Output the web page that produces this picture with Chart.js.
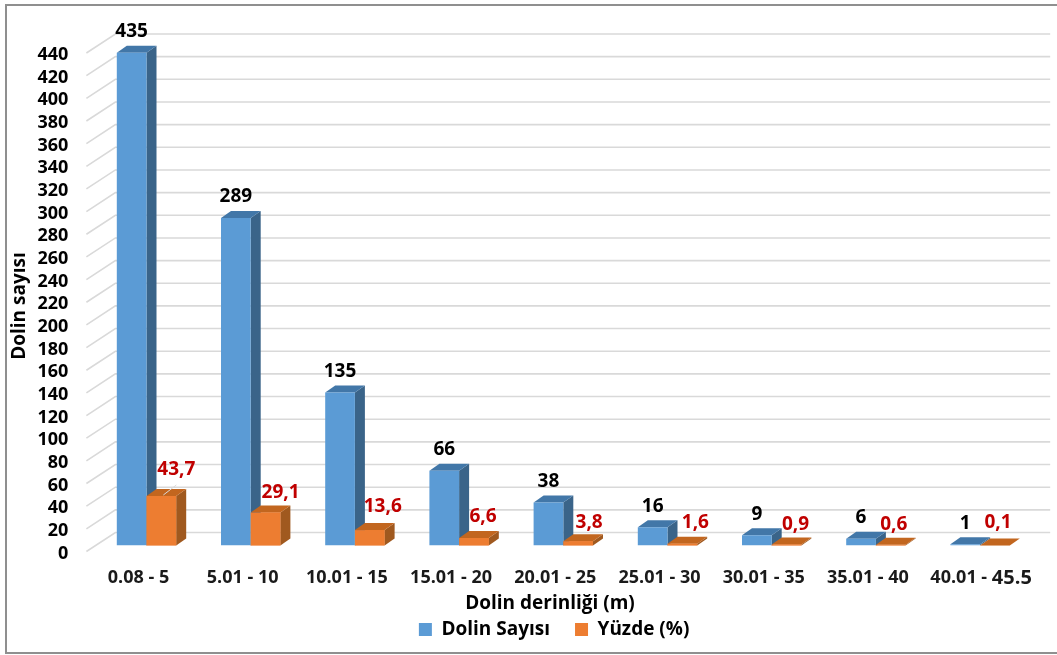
<!DOCTYPE html>
<html lang="tr">
<head>
<meta charset="utf-8">
<title>Dolin derinliği</title>
<style>
  html, body { margin: 0; background: #fff; }
  #wrap { position: relative; width: 1057px; height: 655px; overflow: hidden; }
  #grafik { filter: blur(0.4px); }
  #frame { position: absolute; left: 5px; top: 4px; width: 1060px; height: 646px; border: 2px solid #8f8f8f; pointer-events: none; }
</style>
</head>
<body>
<div id="wrap">
  <canvas id="grafik" width="1057" height="655"></canvas>
  <div id="frame"></div>
</div>
<script src="https://cdn.jsdelivr.net/npm/chart.js@4"></script>
<script>
const kategoriler = ['0.08 - 5', '5.01 - 10', '10.01 - 15', '15.01 - 20', '20.01 - 25', '25.01 - 30', '30.01 - 35', '35.01 - 40', '40.01 - 45.5'];
const dolinSayisi = [435, 289, 135, 66, 38, 16, 9, 6, 1];
const yuzde = [43.7, 29.1, 13.6, 6.6, 3.8, 1.6, 0.9, 0.6, 0.1];

const fontAd = '"Open Sans", sans-serif';
const DERINLIK_X = 10, DERINLIK_Y = 7;
const renkler = [
  { on: '#5b9bd5', ust: '#4277a8', yan: '#3a6489' },
  { on: '#ed7d31', ust: '#c2661f', yan: '#a0591f' }
];
// red labels do not sit centred on their bars
const yuzdeEtiketDx = [15, 15, 13, 9, 11, 13, 9, 3, 3];
const yuzdeEtiketDy = [26, 20, 23, 21, 19, 21, 20, 20, 23];

function cokgen(c, noktalar, renk) {
  c.fillStyle = renk;
  c.beginPath();
  noktalar.forEach((n, i) => i ? c.lineTo(n[0], n[1]) : c.moveTo(n[0], n[1]));
  c.closePath();
  c.fill();
}

function yuzeyler(c, meta, r) {
  meta.data.forEach(b => {
    const sol = b.x - b.width / 2, sag = b.x + b.width / 2;
    cokgen(c, [[sag, b.y], [sag + DERINLIK_X, b.y - DERINLIK_Y], [sag + DERINLIK_X, b.base - DERINLIK_Y], [sag, b.base]], r.yan);
    cokgen(c, [[sol, b.y], [sol + DERINLIK_X, b.y - DERINLIK_Y], [sag + DERINLIK_X, b.y - DERINLIK_Y], [sag, b.y]], r.ust);
  });
}

const ucBoyut = {
  id: 'ucBoyut',
  afterLayout(chart) {
    // legend sits right of the middle in the original
    chart.legend.left += 33;
    chart.legend.right += 33;
    chart.legend.top -= 6;
    chart.legend.bottom -= 6;
  },
  beforeDatasetsDraw(chart) {
    const c = chart.ctx, y = chart.scales.y, a = chart.chartArea;
    c.save();
    c.strokeStyle = '#d9d9d9';
    c.lineWidth = 1.6;
    y.ticks.forEach(t => {
      const p = y.getPixelForValue(t.value);
      c.beginPath();
      c.moveTo(a.left - 8, p + 6);
      c.lineTo(a.left + 21, p - 13);
      c.lineTo(a.right + 18, p - 13);
      c.stroke();
    });
    c.restore();
  },
  beforeDatasetDraw(chart, args) {
    if (args.index === 0) {
      chart.ctx.save();
      yuzeyler(chart.ctx, args.meta, renkler[0]);
      chart.ctx.restore();
    }
  },
  afterDatasetsDraw(chart) {
    const c = chart.ctx, x = chart.scales.x;
    const turuncu = chart.getDatasetMeta(1);
    c.save();

    // orange goes over the blue side faces, chart.js paints dataset 0 last
    yuzeyler(c, turuncu, renkler[1]);
    turuncu.data.forEach(b => b.draw(c));

    c.textAlign = 'center';
    c.textBaseline = 'middle';

    c.font = 'bold 19px ' + fontAd;
    c.fillStyle = '#000';
    chart.getDatasetMeta(0).data.forEach((b, i) => c.fillText(dolinSayisi[i], b.x, b.y - 21));

    c.strokeStyle = '#d9d9d9';
    c.lineWidth = 1;
    c.beginPath();
    c.moveTo(turuncu.data[0].x + 2, turuncu.data[0].y - 1);
    c.lineTo(turuncu.data[0].x + 15, turuncu.data[0].y - 11);
    c.stroke();
    c.fillStyle = '#c00000';
    turuncu.data.forEach((b, i) => c.fillText(yuzde[i].toFixed(1).replace('.', ','), b.x + yuzdeEtiketDx[i], b.y - yuzdeEtiketDy[i]));

    // category labels, the last one has a bigger end part in the original
    c.fillStyle = '#1a1a1a';
    const etiketY = 578;
    kategoriler.forEach((k, i) => {
      const px = x.getPixelForValue(i);
      c.font = 'bold 18px ' + fontAd;
      if (i < kategoriler.length - 1) {
        c.fillText(k, px - 8, etiketY);
      } else {
        const bas = k.slice(0, 8), son = k.slice(8);
        const w1 = c.measureText(bas).width;
        c.font = 'bold 20px ' + fontAd;
        const w2 = c.measureText(son).width;
        const sol = px + 1 - (w1 + w2) / 2;
        c.textAlign = 'left';
        c.fillText(son, sol + w1, etiketY);
        c.font = 'bold 18px ' + fontAd;
        c.fillText(bas, sol, etiketY);
        c.textAlign = 'center';
      }
    });

    c.font = 'bold 19px ' + fontAd;
    c.fillStyle = '#000';
    c.fillText('Dolin derinliği (m)', 550, 604);
    c.translate(20, 306);
    c.rotate(-Math.PI / 2);
    c.fillText('Dolin sayısı', 0, 0);
    c.restore();
  }
};

new Chart(document.getElementById('grafik'), {
  type: 'bar',
  data: {
    labels: kategoriler,
    datasets: [
      { label: 'Dolin Sayısı', data: dolinSayisi, backgroundColor: renkler[0].on },
      { label: 'Yüzde (%)', data: yuzde, backgroundColor: renkler[1].on }
    ]
  },
  options: {
    responsive: false,
    animation: false,
    layout: { padding: { top: 47, left: 10, right: 24.8, bottom: 0 } },
    datasets: { bar: { barPercentage: 1, categoryPercentage: 0.57 } },
    plugins: {
      tooltip: { enabled: false },
      legend: {
        position: 'bottom',
        labels: {
          boxWidth: 13, boxHeight: 13, padding: 25, color: '#000',
          font: { family: fontAd, weight: 'bold', size: 19 }
        }
      }
    },
    scales: {
      x: {
        grid: { display: false },
        border: { display: false },
        ticks: { display: false },
        afterFit(s) { s.height = 655 - s.chart.legend.height - 545.5; }
      },
      y: {
        min: 0,
        max: 440,
        grid: { display: false },
        border: { display: false },
        ticks: {
          stepSize: 20, autoSkip: false, padding: 18, labelOffset: 8, color: '#000',
          font: { family: fontAd, weight: 'bold', size: 18 }
        },
        afterFit(s) { s.width = 84.4; }
      }
    }
  },
  plugins: [ucBoyut]
});
</script>
</body>
</html>
